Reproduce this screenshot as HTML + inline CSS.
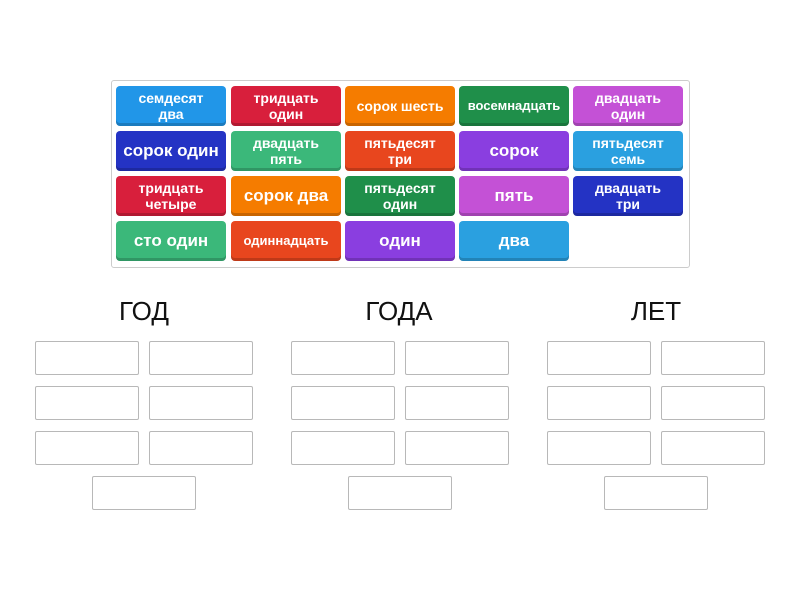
<!DOCTYPE html>
<html><head><meta charset="utf-8"><style>
body{margin:0;width:800px;height:600px;background:#fff;font-family:"Liberation Sans","DejaVu Sans",sans-serif;position:relative;overflow:hidden}
.box{position:absolute;left:111px;top:80px;width:577px;height:186px;border:1px solid #ccc;border-radius:3px;background:#fff}
.t{position:absolute;width:110px;height:40px;border-radius:4px;color:#fff;font-weight:bold;display:flex;align-items:center;justify-content:center;text-align:center;line-height:16px;font-size:14px;box-shadow:inset 0 -3px 0 rgba(0,0,0,.18)}
.b{font-size:17px}
.s{font-size:13px}
.h{position:absolute;top:296px;width:208px;text-align:center;font-size:26px;color:#111}
.d{position:absolute;width:102px;height:32px;border:1px solid #b8b8b8;border-radius:2px}
</style></head><body>
<div class="box"></div>
<div class="t" style="left:116px;top:86px;background:#2196e8">семдесят<br>два</div>
<div class="t" style="left:231px;top:86px;background:#d81f3c">тридцать<br>один</div>
<div class="t" style="left:345px;top:86px;background:#f57c00">сорок шесть</div>
<div class="t s" style="left:459px;top:86px;background:#1f8f4a">восемнадцать</div>
<div class="t" style="left:573px;top:86px;background:#c451d6">двадцать<br>один</div>
<div class="t b" style="left:116px;top:131px;background:#2433c4">сорок один</div>
<div class="t" style="left:231px;top:131px;background:#3bb87a">двадцать<br>пять</div>
<div class="t" style="left:345px;top:131px;background:#e8461e">пятьдесят<br>три</div>
<div class="t b" style="left:459px;top:131px;background:#8a3ee0">сорок</div>
<div class="t" style="left:573px;top:131px;background:#2aa0e0">пятьдесят<br>семь</div>
<div class="t" style="left:116px;top:176px;background:#d81f3c">тридцать<br>четыре</div>
<div class="t b" style="left:231px;top:176px;background:#f57c00">сорок два</div>
<div class="t" style="left:345px;top:176px;background:#1f8f4a">пятьдесят<br>один</div>
<div class="t b" style="left:459px;top:176px;background:#c451d6">пять</div>
<div class="t" style="left:573px;top:176px;background:#2433c4">двадцать<br>три</div>
<div class="t b" style="left:116px;top:221px;background:#3bb87a">сто один</div>
<div class="t s" style="left:231px;top:221px;background:#e8461e">одиннадцать</div>
<div class="t b" style="left:345px;top:221px;background:#8a3ee0">один</div>
<div class="t b" style="left:459px;top:221px;background:#2aa0e0">два</div>
<div class="h" style="left:40px">ГОД</div>
<div class="h" style="left:295px">ГОДА</div>
<div class="h" style="left:552px">ЛЕТ</div>
<div id="z"></div>
<script>
var z=document.getElementById('z'),h='';
[35,291,547].forEach(function(o){
[341,386,431].forEach(function(y){
h+='<div class="d" style="left:'+o+'px;top:'+y+'px"></div><div class="d" style="left:'+(o+114)+'px;top:'+y+'px"></div>';});
h+='<div class="d" style="left:'+(o+57)+'px;top:476px"></div>';});
z.innerHTML=h;
</script>
</body></html>
